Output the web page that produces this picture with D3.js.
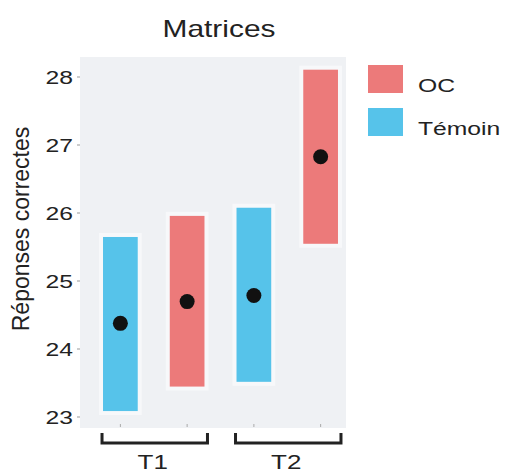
<!DOCTYPE html>
<html>
<head>
<meta charset="utf-8">
<script src="https://cdn.jsdelivr.net/npm/d3@7"></script>
<style>
  body { margin: 0; background: #fff; }
  text { font-family: "Liberation Sans", Arial, sans-serif; fill: #222; }
</style>
</head>
<body>
<svg id="chart"></svg>
<script>
// data
const groups = ["T1", "T2"];
const conditions = ["Témoin", "OC", "Témoin", "OC"];
const timeOf = ["T1", "T1", "T2", "T2"];
const lows = [23.08, 23.44, 23.51, 25.54];
const highs = [25.64, 25.95, 26.07, 28.1];
const means = [24.37, 24.69, 24.78, 26.82];
const yTicks = [23, 24, 25, 26, 27, 28];
const legendItems = ["OC", "Témoin"];

const colors = { "OC": "#ec7a7a", "Témoin": "#56c3ea" };

const width = 509, height = 474;
const stretch = 1.3; // text in the picture is wider than usual
const svg = d3.select("#chart").attr("width", width).attr("height", height);

function label(px, py, str, size, anchor) {
  return svg.append("text")
    .attr("transform", `translate(${px},${py}) scale(${stretch},1)`)
    .attr("text-anchor", anchor || "start")
    .style("font-size", size + "px")
    .text(str);
}

// panel area
const panelL = 80, panelR = 346, panelT = 57, panelB = 428;

const y = d3.scaleLinear().domain([23, 28]).range([416.5, 76.5]);
const x = d3.scaleBand()
  .domain(d3.range(4))
  .range([87, 354])
  .paddingInner(0.48)
  .paddingOuter(0.24);

// faint grey panel
svg.append("rect")
  .attr("x", panelL).attr("y", panelT)
  .attr("width", panelR - panelL).attr("height", panelB - panelT)
  .attr("fill", "#eff1f4");

// title
label(219, 37, "Matrices", 23, "middle");

// y axis labels + tiny ticks
const yAxis = svg.append("g").attr("transform", `translate(${panelL}, 0)`)
  .call(d3.axisLeft(y).tickValues(yTicks).tickFormat(d3.format("d")).tickSize(3).tickPadding(3));
yAxis.select(".domain").remove();
yAxis.selectAll(".tick line").attr("stroke", "#999");
yAxis.selectAll(".tick text")
  .attr("x", null).attr("dy", null)
  .attr("transform", `translate(-7, 7) scale(${stretch},1)`)
  .style("font-size", "19px").style("font-family", "Liberation Sans, Arial, sans-serif")
  .attr("fill", "#222");

svg.append("text")
  .attr("transform", "translate(29, 229) rotate(-90)")
  .attr("text-anchor", "middle")
  .style("font-size", "23px")
  .text("Réponses correctes");

// bars with a soft white halo
const idx = d3.range(4);
svg.selectAll("rect.halo")
  .data(idx).enter().append("rect")
  .attr("class", "halo")
  .attr("x", i => x(i) - 4)
  .attr("y", i => y(highs[i]) - 4)
  .attr("width", x.bandwidth() + 8)
  .attr("height", i => y(lows[i]) - y(highs[i]) + 8)
  .attr("fill", "#f7f8fa");

svg.selectAll("rect.bar")
  .data(idx).enter().append("rect")
  .attr("class", "bar")
  .attr("x", i => x(i))
  .attr("y", i => y(highs[i]))
  .attr("width", x.bandwidth())
  .attr("height", i => y(lows[i]) - y(highs[i]))
  .attr("fill", i => colors[conditions[i]]);

svg.selectAll("circle.mean")
  .data(idx).enter().append("circle")
  .attr("class", "mean")
  .attr("cx", i => x(i) + x.bandwidth() / 2)
  .attr("cy", i => y(means[i]))
  .attr("r", 7.5)
  .attr("fill", "#111");

// small x ticks
svg.selectAll("line.xtick")
  .data(idx).enter().append("line")
  .attr("class", "xtick")
  .attr("x1", i => x(i) + x.bandwidth() / 2)
  .attr("x2", i => x(i) + x.bandwidth() / 2)
  .attr("y1", 424).attr("y2", 427)
  .attr("stroke", "#aaa");

// brackets for T1 / T2
groups.forEach(g => {
  const members = idx.filter(i => timeOf[i] === g);
  const x0 = x(members[0]) - 1;
  const x1 = x(members[members.length - 1]) + x.bandwidth() + 3;
  svg.append("path")
    .attr("d", `M${x0},433 V443 H${x1} V433`)
    .attr("fill", "none")
    .attr("stroke", "#222")
    .attr("stroke-width", 3);
  label((x0 + x1) / 2 - 2, 469, g, 20, "middle");
});

// legend
const legend = svg.append("g").attr("transform", "translate(368, 65)");
legendItems.forEach((k, i) => {
  legend.append("rect")
    .attr("x", 0).attr("y", i * 43)
    .attr("width", 35).attr("height", 28)
    .attr("fill", colors[k]);
  label(418, 65 + i * 43 + 27, k, 19, "start");
});
</script>
</body>
</html>
